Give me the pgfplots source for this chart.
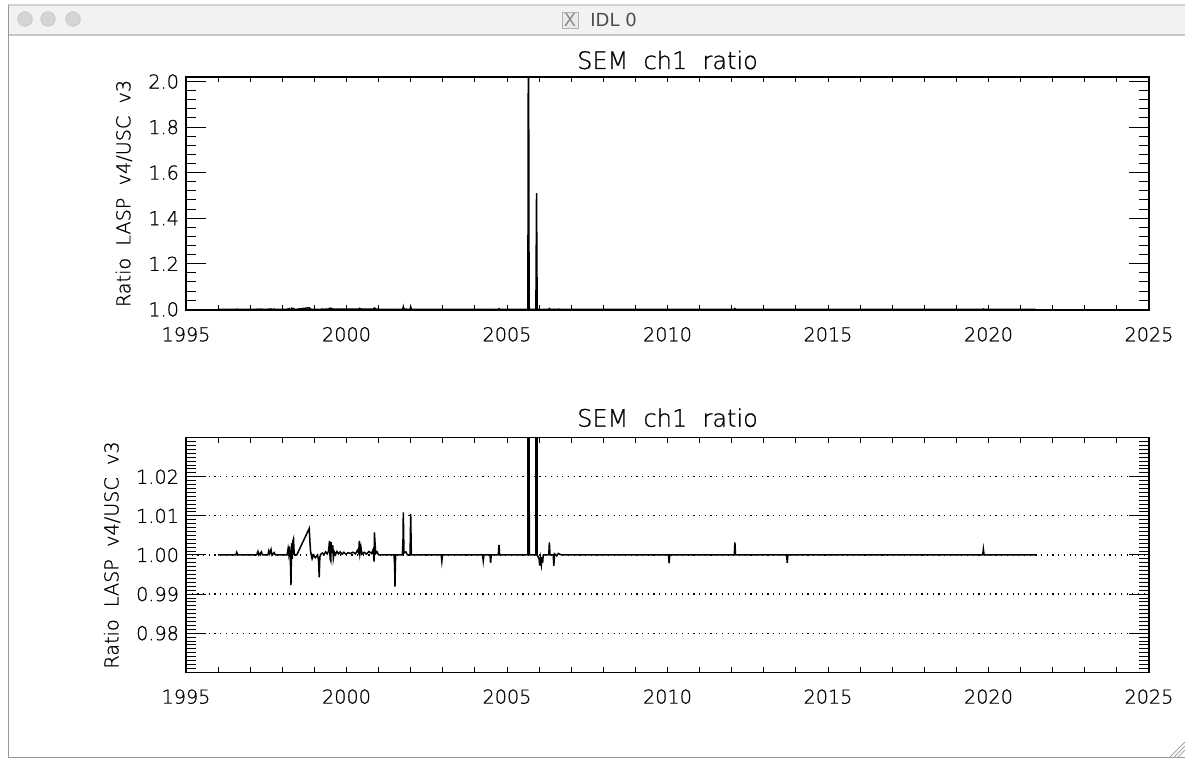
\documentclass[border=0pt]{standalone}
\usepackage{fontspec}
\setmainfont{DejaVu Sans ExtraLight}[WordSpace=2, FakeBold=0.8]
\newfontfamily\wintitle{DejaVu Sans}
\usepackage{pgfplots}
\pgfplotsset{compat=1.18}
\usepackage{pgfplotstable}

% SEM ch1 ratio, LASP v4 / USC v3
\pgfplotstableread{
t v
1996.00 1.0000
1996.55 1.0000
1996.58 1.0007
1996.61 1.0000
1997.20 1.0000
1997.24 1.0009
1997.27 1.0000
1997.35 1.0008
1997.38 1.0000
1997.55 1.0000
1997.58 1.0011
1997.61 1.0003
1997.65 1.0014
1997.68 1.0000
1997.75 1.0006
1997.78 1.0000
1998.15 1.0000
1998.18 1.0016
1998.20 1.0003
1998.22 1.0022
1998.25 0.9993
1998.27 0.9923
1998.29 1.0030
1998.31 0.9990
1998.33 1.0035
1998.35 1.0041
1998.37 1.0002
1998.45 1.0000
1998.84 1.0068
1998.86 1.0035
1998.88 1.0010
1998.90 1.0001
1998.93 0.9990
1998.98 1.0000
1999.03 0.9993
1999.10 1.0000
1999.13 0.9985
1999.15 0.9943
1999.17 0.9995
1999.20 1.0002
1999.25 1.0005
1999.30 1.0001
1999.35 1.0008
1999.40 1.0003
1999.44 1.0010
1999.47 1.0036
1999.49 0.9990
1999.51 0.9985
1999.52 1.0033
1999.54 1.0005
1999.57 1.0025
1999.59 0.9992
1999.62 1.0008
1999.66 1.0001
1999.70 1.0009
1999.75 1.0003
1999.80 1.0008
1999.86 1.0002
1999.92 1.0007
1999.98 1.0002
2000.05 1.0006
2000.12 1.0004
2000.20 1.0007
2000.28 1.0003
2000.34 1.0012
2000.38 1.0005
2000.40 1.0036
2000.42 1.0004
2000.45 1.0020
2000.48 1.0002
2000.55 1.0007
2000.62 1.0002
2000.70 1.0009
2000.78 1.0004
2000.83 1.0014
2000.86 0.9983
2000.87 1.0058
2000.89 1.0030
2000.91 1.0004
2000.95 1.0008
2001.00 1.0000
2001.48 1.0000
2001.50 0.9975
2001.51 0.9919
2001.53 1.0000
2001.74 1.0000
2001.76 1.0040
2001.77 1.0109
2001.79 1.0005
2001.85 1.0008
2001.90 1.0000
2001.98 1.0000
2002.00 1.0105
2002.02 1.0000
2002.95 1.0000
2002.97 0.9984
2002.99 1.0000
2004.24 1.0000
2004.26 0.9985
2004.28 1.0000
2004.47 1.0000
2004.49 0.9980
2004.51 1.0000
2004.73 1.0000
2004.75 1.0026
2004.77 1.0000
2005.65 1.0000
2005.67 2.6000
2005.68 1.5100
2005.69 1.0148
2005.70 1.0000
2005.90 1.0000
2005.92 1.5100
2005.94 1.0000
2006.00 0.9990
2006.02 0.9973
2006.04 0.9992
2006.07 0.9975
2006.09 0.9995
2006.11 0.9980
2006.13 1.0000
2006.30 1.0000
2006.32 1.0032
2006.34 1.0000
2006.44 1.0000
2006.46 0.9972
2006.48 1.0003
2006.55 0.9998
2006.60 1.0004
2006.70 1.0000
2010.03 1.0000
2010.05 0.9979
2010.07 1.0000
2012.08 1.0000
2012.10 1.0032
2012.12 1.0000
2013.71 1.0000
2013.73 0.9980
2013.75 1.0000
2019.82 1.0000
2019.84 1.0015
2019.86 1.0002
2019.88 1.0000
2021.47 1.0000
}\semdata

\pgfplotsset{
  semframe/.style={
    scale only axis, width=481.5pt,
    xmin=1995, xmax=2025,
    xtick={1995,2000,...,2025}, minor x tick num=4,
    tick align=inside,
    axis line style={line width=0.6pt},
    every tick/.style={black, line width=0.5pt},
    /pgf/number format/assume math mode=true,
    tick label style={font=\fontsize{9.6}{11}\selectfont},
    xticklabel style={/pgf/number format/1000 sep={}, yshift=-5pt},
    title style={font=\fontsize{12}{14}\selectfont, at={(axis description cs:0.5,1)}, anchor=base},
    every axis y label/.style={rotate=90, anchor=center, font=\fontsize{9.6}{11}\selectfont},
    major tick length=2.5pt, minor tick length=2.5pt,
    ytick style={draw=none},
  },
  semyticks/.style={
    scale only axis, width=481.5pt,
    xmin=1995, xmax=2025, xtick=\empty,
    axis line style={draw=none},
    tick align=inside, yticklabels={},
    every tick/.style={black, line width=0.5pt},
    major tick length=10pt, minor tick length=5pt,
  },
}

\begin{document}
\begin{tikzpicture}
\useasboundingbox (0,0) rectangle (592.5pt,-379pt);
% window frame in screen pixels
\begin{scope}[x=0.5pt,y=-0.5pt]
  \fill[white] (0,0) rectangle (1185,758);
  \fill[black!5] (8,5) rectangle (1185,35);
  \draw[black!22, line width=0.6pt] (8,35) -- (1185,35);
  \draw[black!18, line width=0.6pt] (8,5) -- (1185,5);
  \draw[black!40, line width=0.8pt] (8.5,5) -- (8.5,757.5) -- (1185,757.5);
  \foreach \cx in {25,48,73}
    \draw[fill=black!17, draw=black!22, line width=0.4pt] (\cx,19) circle (7.2);
  \draw[black!30, fill=black!8, line width=0.4pt] (562,12) rectangle (578,28);
  \node[black!45, font=\wintitle\fontsize{9}{10}\selectfont] at (570,20) {X};
  \node[black!70, anchor=west, font=\wintitle\fontsize{9}{10}\selectfont, inner sep=0pt] at (590,20) {IDL 0};
  \foreach \d in {0,4,8}
    \draw[black!35, line width=0.4pt] (1185,742+\d) -- (1170+\d,757);
\end{scope}

% upper panel
\begin{axis}[semframe, at={(93pt,-155pt)}, anchor=south west, height=116.5pt,
  ymin=0.997, ymax=2.02,
  ytick={1.0,1.2,...,2.0}, minor y tick num=4,
  yticklabel style={/pgf/number format/.cd, fixed, fixed zerofill, precision=1},
  title={SEM ch1 ratio}, title style={yshift=-2pt},
  ylabel={Ratio LASP v4/USC v3},
  ylabel style={at={(axis description cs:-0.0644,0.5)}},
]
\addplot[black, line width=0.75pt] table[x=t, y=v] {\semdata};
\end{axis}
\begin{axis}[semyticks, at={(93pt,-155pt)}, anchor=south west, height=116.5pt,
  ymin=0.997, ymax=2.02,
  ytick={1.0,1.2,...,2.0}, minor y tick num=4,
]
\end{axis}

% lower panel
\begin{axis}[semframe, at={(93pt,-336.15pt)}, anchor=south west, height=117.3pt,
  ymin=0.97, ymax=1.03,
  ytick={0.98,0.99,1.00,1.01,1.02}, minor y tick num=9,
  yticklabel style={/pgf/number format/.cd, fixed, fixed zerofill, precision=2},
  ymajorgrids,
  major grid style={black, line width=0.6pt, dash pattern=on 0.6pt off 2.25pt},
  title={SEM ch1 ratio}, title style={yshift=-0.5pt},
  ylabel={Ratio LASP v4/USC v3},
  ylabel style={at={(axis description cs:-0.0768,0.5)}},
]
\addplot[black, line width=0.75pt] table[x=t, y=v] {\semdata};
\end{axis}
\begin{axis}[semyticks, at={(93pt,-336.15pt)}, anchor=south west, height=117.3pt,
  ymin=0.97, ymax=1.03,
  ytick={0.97,0.98,...,1.03}, minor y tick num=9,
]
\end{axis}
\end{tikzpicture}
\end{document}
